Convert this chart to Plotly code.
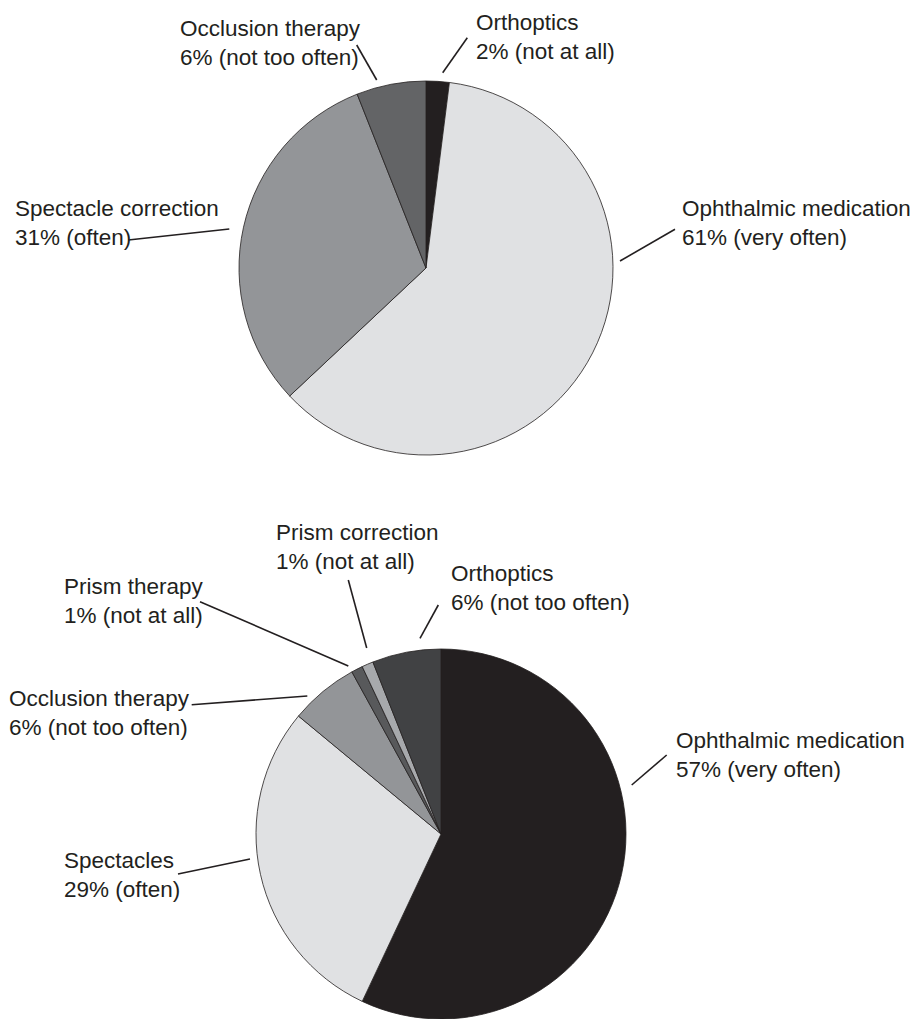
import plotly.graph_objects as go

W, H = 914, 1019

# ---- data ----
top_labels = ["Orthoptics", "Ophthalmic medication", "Spectacle correction", "Occlusion therapy"]
top_values = [2, 61, 31, 6]
top_freq = ["not at all", "very often", "often", "not too often"]
top_colors = ["#231f20", "#e0e1e3", "#939598", "#636466"]

bot_labels = ["Ophthalmic medication", "Spectacles", "Occlusion therapy",
              "Prism therapy", "Prism correction", "Orthoptics"]
bot_values = [57, 29, 6, 1, 1, 6]
bot_freq = ["very often", "often", "not too often", "not at all", "not at all", "not too often"]
bot_colors = ["#231f20", "#e0e1e3", "#939598", "#58595b", "#a7a9ac", "#414244"]

# ---- layout (pixels) ----
top_box = (239, 613, 81, 455)      # x0, x1, y0, y1 (px, from top)
bot_box = (256, 626, 649, 1019)

# label position: (left x, first baseline y); leader: (outer x, outer y, inner x, inner y)
top_label_pos = {
    "Orthoptics": (475, 30, (467.3, 37.7, 442.7, 72.7)),
    "Ophthalmic medication": (681, 217, (675, 229.3, 620, 261)),
    "Spectacle correction": (14, 216.7, (128.3, 240, 229.3, 229)),
    "Occlusion therapy": (179, 37, (356.7, 45, 376.7, 80)),
}
bot_label_pos = {
    "Ophthalmic medication": (675, 748.3, (666.7, 755, 631.7, 785)),
    "Spectacles": (63.3, 868, (178, 874, 250, 859)),
    "Occlusion therapy": (8.3, 706, (191.7, 704.7, 307.3, 696)),
    "Prism therapy": (63.3, 594, (200, 601.7, 348.3, 666)),
    "Prism correction": (275, 540, (348.3, 580, 366.7, 648)),
    "Orthoptics": (450, 581.7, (438.3, 605, 420, 638.3)),
}

FONT = "Liberation Sans, Arial, Helvetica, sans-serif"
FS = 22.5
TXT = "#231f20"
BASE_OFF = 21.5  # px from box top to first baseline (approx)


def px(x):
    return x / W


def py(y):
    return 1 - y / H


fig = go.Figure()


def add_pie(labels, values, colors, box):
    x0, x1, y0, y1 = box
    fig.add_trace(go.Pie(
        labels=labels, values=values, sort=False, direction="clockwise", rotation=0,
        marker=dict(colors=colors, line=dict(color="#231f20", width=0.8)),
        textinfo="none", hoverinfo="label+percent", showlegend=False,
        domain=dict(x=[px(x0), px(x1)], y=[max(0, py(y1)), min(1, py(y0))]),
    ))


add_pie(top_labels, top_values, top_colors, top_box)
add_pie(bot_labels, bot_values, bot_colors, bot_box)

annotations = []
shapes = []


def add_labels(labels, values, freq, pos):
    for lab, v, f in zip(labels, values, freq):
        lx, by, (ox, oy, ix, iy) = pos[lab]
        annotations.append(dict(
            x=px(lx), y=py(by - BASE_OFF), xref="paper", yref="paper",
            xanchor="left", yanchor="top", align="left", showarrow=False,
            text=f"{lab}<br>{v}% ({f})",
            font=dict(family=FONT, size=FS, color=TXT), borderpad=0,
        ))
        shapes.append(dict(
            type="line", xref="paper", yref="paper",
            x0=px(ox), y0=py(oy), x1=px(ix), y1=py(iy),
            line=dict(color=TXT, width=1.6),
        ))


add_labels(top_labels, top_values, top_freq, top_label_pos)
add_labels(bot_labels, bot_values, bot_freq, bot_label_pos)

fig.update_layout(
    width=W, height=H, margin=dict(l=0, r=0, t=0, b=0),
    paper_bgcolor="white", plot_bgcolor="white",
    annotations=annotations, shapes=shapes,
)

fig.write_html("out.html")
